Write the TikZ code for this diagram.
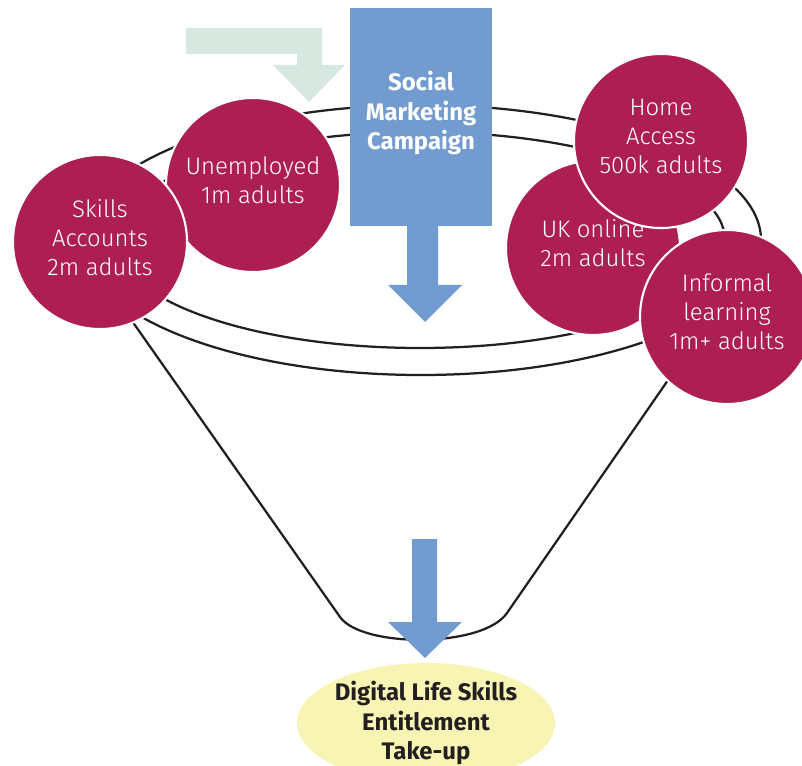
\documentclass[tikz,border=0pt]{standalone}
\usepackage{fontspec}
\setmainfont{Fira Sans}
\newfontfamily\lightfont{Fira Sans Light}
\usetikzlibrary{shapes.geometric}
\definecolor{plum}{RGB}{173,30,82}
\definecolor{campaignblue}{RGB}{114,156,208}
\definecolor{mint}{RGB}{214,232,224}
\definecolor{paleyellow}{RGB}{248,244,180}
\definecolor{ink}{RGB}{35,31,32}
\tikzset{
  group/.style={circle, fill=plum, draw=white, line width=1.5pt, minimum size=4.35cm,
    inner sep=0pt, text=white, align=center, text depth=7pt,
    font=\lightfont\fontsize{17}{20.6}\selectfont},
  rim/.style={draw=ink, line width=1.6pt},
  boldtext/.style={align=center, font=\bfseries\fontsize{17}{21}\selectfont},
}
\begin{document}
\begin{tikzpicture}[x=0.025cm, y=-0.025cm]
      \useasboundingbox (0,0) rectangle (802,766);
      % funnel rims
      \draw[rim] (421,240) ellipse [x radius=340, y radius=135];
      \draw[rim] (420,240) ellipse [x radius=305, y radius=108];
      % funnel sides
      \coordinate (L1) at (125,311);
      \coordinate (L2) at (340,617);
      \coordinate (R2) at (507,613);
      \coordinate (R1) at (675,370);
      \draw[rim] (L1) -- (L2) .. controls (362,648) and (483,648) .. (R2) -- (R1);
      % mint arrow
      \fill[mint] (186,28) -- (322,28) -- (322,65) -- (345,65) -- (309,102)
        -- (273,65) -- (297,65) -- (297,54) -- (186,54) -- cycle;
      % left groups
      \node[group] (unemployed) at (253,185) {Unemployed\\1m adults};
      \node[group] (skills) at (100,242) {Skills\\Accounts\\2m adults};
      % right groups
      \node[group] (ukonline) at (593,248) {UK online\\2m adults};
      \node[group] (home) at (661,141) {Home\\Access\\500k adults};
      \node[group] (informal) at (727,317) {Informal\\learning\\1m+ adults};
      % campaign
      \node[fill=campaignblue, minimum width=3.55cm, minimum height=5.45cm, inner sep=0pt]
        (campaign) at (421,117) {};
      \node[boldtext, text=white] (campaigntext) at (421,113) {Social\\Marketing\\Campaign};
      \fill[campaignblue] (407,225) -- (438,225) -- (438,285) -- (462,285) -- (425,322)
        -- (388,285) -- (407,285) -- cycle;
      % take-up
      \fill[campaignblue] (412,539) -- (437,539) -- (437,622) -- (462,622) -- (425,658)
        -- (388,622) -- (412,622) -- cycle;
      \node[ellipse, fill=paleyellow, minimum width=6.45cm, minimum height=3cm, inner sep=0pt,
        boldtext, text=ink] (takeup) at (426,723) {Digital Life Skills\\Entitlement\\Take-up};
\end{tikzpicture}
\end{document}
